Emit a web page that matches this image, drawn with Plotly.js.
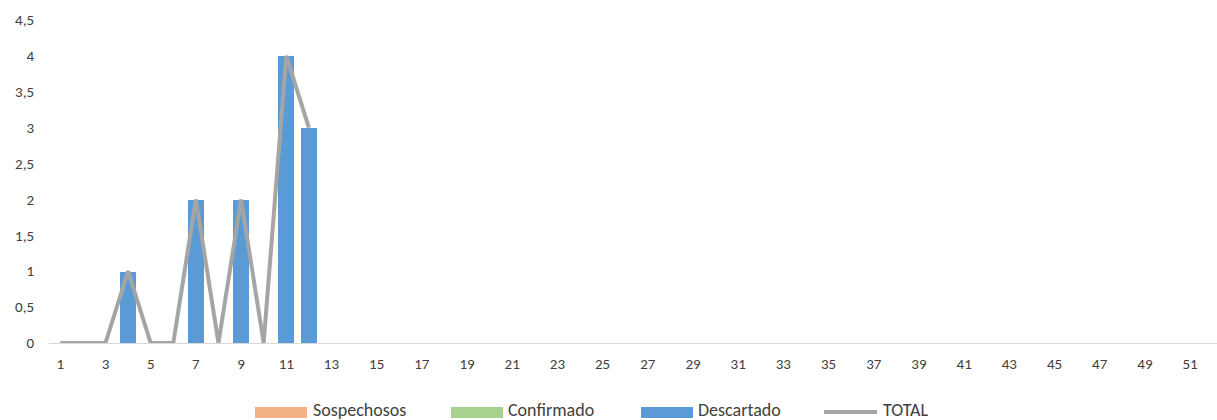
<!DOCTYPE html>
<html>
<head>
<meta charset="utf-8">
<script src="https://cdn.plot.ly/plotly-3.0.1.min.js"></script>
<style>
html,body{margin:0;padding:0;overflow:hidden;background:#fff;}
#chart{width:1224px;height:420px;}
</style>
</head>
<body>
<div id="chart"></div>
<script>
var weeks = [];
for (var w = 1; w <= 52; w++) weeks.push(String(w));

var sospechosos = [0,0,0,0,0,0,0,0,0,0,0,0];
var confirmado  = [0,0,0,0,0,0,0,0,0,0,0,0];
var descartado  = [0,0,0,1,0,0,2,0,2,0,4,3];
var total       = [0,0,0,1,0,0,2,0,2,0,4,3];

var tickWeeks = ["1","3","5","7","9","11","13","15","17","19","21","23","25","27","29","31","33","35","37","39","41","43","45","47","49","51"];

var seriesNames  = ["Sospechosos","Confirmado","Descartado","TOTAL"];
var seriesColors = ["#F4B183","#A9D18E","#5B9BD5","#A5A5A5"];

var dataWeeks = weeks.slice(0, total.length);
var fam = "Carlito, Lato, 'Liberation Sans', Arial, sans-serif";
var font = {family: fam, size: 15, color: "#404040"};

var traces = [
  {type:"bar", name:seriesNames[0], x:dataWeeks, y:sospechosos, width:0.75,
   marker:{color:seriesColors[0], line:{width:0}}},
  {type:"bar", name:seriesNames[1], x:dataWeeks, y:confirmado, width:0.75,
   marker:{color:seriesColors[1], line:{width:0}}},
  {type:"bar", name:seriesNames[2], x:dataWeeks, y:descartado, width:0.75,
   marker:{color:seriesColors[2], line:{width:1, color:"#FFFFFF"}}},
  {type:"scatter", mode:"lines", name:seriesNames[3], x:dataWeeks, y:total,
   line:{color:seriesColors[3], width:4}}
];

// custom legend (paper coordinates) to mimic Excel's wide swatches
var plotL = 49, plotW = 1175, plotB = 343, plotH = 323;
function px(x){ return (x - plotL) / plotW; }
function py(y){ return (plotB - y) / plotH; }
var swatchX = [255, 451, 641, 824];
var textX   = [311, 506, 696, 881];
var shapes = [], annotations = [];
for (var i = 0; i < 4; i++) {
  if (i < 3) {
    shapes.push({type:"rect", xref:"paper", yref:"paper",
      x0:px(swatchX[i]), x1:px(swatchX[i]+52), y0:py(418), y1:py(407),
      fillcolor:seriesColors[i], line:{width:0}});
  } else {
    shapes.push({type:"line", xref:"paper", yref:"paper",
      x0:px(swatchX[i]), x1:px(swatchX[i]+53), y0:py(412), y1:py(412),
      line:{color:seriesColors[i], width:4}});
  }
  annotations.push({xref:"paper", yref:"paper", x:px(textX[i]), y:py(410),
    xanchor:"left", yanchor:"middle", showarrow:false, text:seriesNames[i],
    font:{family:fam, size:18, color:"#404040"}});
}

var layout = {
  width:1224, height:420,
  margin:{l:plotL, r:0, t:20, b:77, autoexpand:false},
  paper_bgcolor:"#FFFFFF", plot_bgcolor:"#FFFFFF",
  barmode:"stack",
  separators:",.",
  font:font,
  showlegend:false,
  shapes:shapes,
  annotations:annotations,
  xaxis:{type:"category", categoryorder:"array", categoryarray:weeks,
         range:[-0.5, 51.5], tickmode:"array", tickvals:tickWeeks, ticktext:tickWeeks,
         showgrid:false, showline:true, linecolor:"#D9D9D9", linewidth:1,
         ticks:"", ticklabelstandoff:7, zeroline:false, tickfont:font, fixedrange:true},
  yaxis:{range:[0,4.5], dtick:0.5, tick0:0, showgrid:false, showline:false, zeroline:false,
         ticks:"", ticklabelstandoff:14, tickfont:font, fixedrange:true}
};

Plotly.newPlot("chart", traces, layout, {displayModeBar:false, staticPlot:true});
</script>
</body>
</html>
